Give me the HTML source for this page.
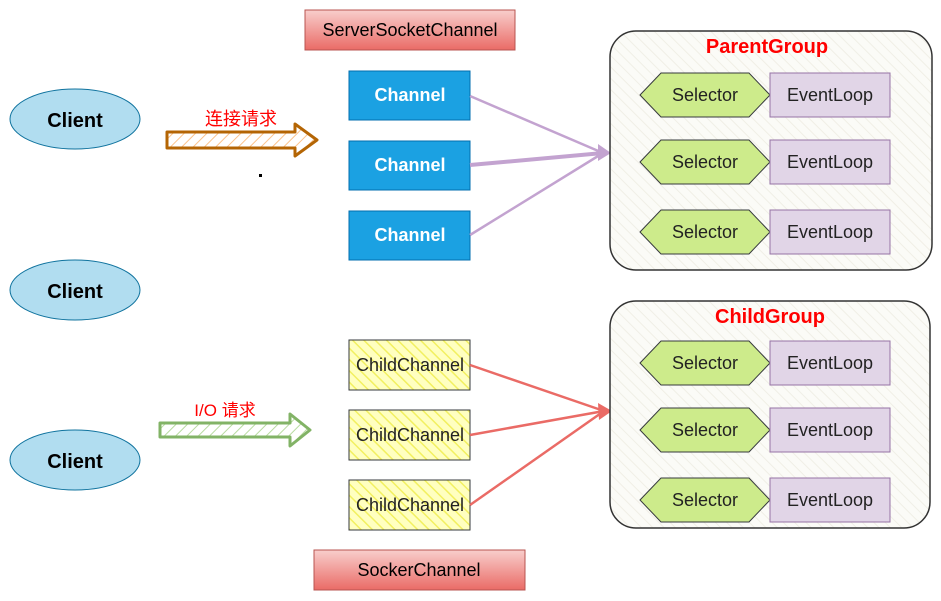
<!DOCTYPE html>
<html><head><meta charset="utf-8"><style>
body{margin:0;background:#fff;}
svg{display:block;font-family:"Liberation Sans","Noto Sans CJK SC",sans-serif;}
</style></head><body>
<svg width="941" height="601" viewBox="0 0 941 601" xmlns="http://www.w3.org/2000/svg">
<defs>
<linearGradient id="rg" x1="0" y1="0" x2="0" y2="1"><stop offset="0" stop-color="#f8cecc"/><stop offset="1" stop-color="#ea6b66"/></linearGradient>
<pattern id="hy" width="8" height="8" patternUnits="userSpaceOnUse" patternTransform="rotate(-45)"><rect width="8" height="8" fill="#ffffc0"/><line x1="0" y1="0" x2="0" y2="8" stroke="#f2f060" stroke-width="3"/></pattern>
<pattern id="hg" width="8" height="8" patternUnits="userSpaceOnUse" patternTransform="rotate(-45)"><rect width="8" height="8" fill="#fbfbf7"/><line x1="0" y1="0" x2="0" y2="8" stroke="#f0efe6" stroke-width="2"/></pattern>
<pattern id="ho" width="8" height="8" patternUnits="userSpaceOnUse" patternTransform="rotate(45)"><rect width="8" height="8" fill="#fff"/><line x1="0" y1="0" x2="0" y2="8" stroke="#fcc38c" stroke-width="2"/></pattern>
<pattern id="hgr" width="8" height="8" patternUnits="userSpaceOnUse" patternTransform="rotate(45)"><rect width="8" height="8" fill="#fff"/><line x1="0" y1="0" x2="0" y2="8" stroke="#b8dba0" stroke-width="2"/></pattern>
</defs>
<g fill="#b1ddf0" stroke="#10739e" stroke-width="1">
<ellipse cx="75" cy="119" rx="65" ry="30"/><ellipse cx="75" cy="290" rx="65" ry="30"/><ellipse cx="75" cy="460" rx="65" ry="30"/>
</g>
<g font-size="20" font-weight="bold" text-anchor="middle" fill="#000">
<text x="75" y="127">Client</text><text x="75" y="298">Client</text><text x="75" y="468">Client</text>
</g>
<rect x="305" y="10" width="210" height="40" fill="url(#rg)" stroke="#b85450"/>
<text x="410" y="36" font-size="18" text-anchor="middle">ServerSocketChannel</text>
<rect x="314" y="550" width="211" height="40" fill="url(#rg)" stroke="#b85450"/>
<text x="419" y="576" font-size="18" text-anchor="middle">SockerChannel</text>
<g fill="#1ba1e2" stroke="#006eaf">
<rect x="349" y="71" width="121" height="49"/><rect x="349" y="141" width="121" height="49"/><rect x="349" y="211" width="121" height="49"/>
</g>
<g font-size="18" font-weight="bold" text-anchor="middle" fill="#fff">
<text x="410" y="101">Channel</text><text x="410" y="171">Channel</text><text x="410" y="241">Channel</text>
</g>
<g fill="url(#hy)" stroke="#36393d">
<rect x="349" y="340" width="121" height="50"/><rect x="349" y="410" width="121" height="50"/><rect x="349" y="480" width="121" height="50"/>
</g>
<g font-size="18" text-anchor="middle" fill="#222">
<text x="410" y="371">ChildChannel</text><text x="410" y="441">ChildChannel</text><text x="410" y="511">ChildChannel</text>
</g>
<path d="M167,132 H295 V124 L317,140 L295,156 V148 H167 Z" fill="url(#ho)" stroke="#b46504" stroke-width="3" stroke-linejoin="round"/>
<text x="241" y="125" font-size="18" fill="#ff0000" text-anchor="middle">连接请求</text>
<rect x="259" y="174" width="3" height="3" fill="#000"/>
<path d="M160,423 H290 V414 L310,430 L290,446 V437 H160 Z" fill="url(#hgr)" stroke="#82b366" stroke-width="3" stroke-linejoin="round"/>
<text x="225" y="416" font-size="17" fill="#ff0000" text-anchor="middle">I/O 请求</text>
<g stroke="#c3a3d0" stroke-width="2.5" fill="none">
<line x1="470" y1="96" x2="603" y2="153"/><line x1="470" y1="165" x2="603" y2="153" stroke-width="4"/><line x1="470" y1="235" x2="603" y2="153"/>
</g>
<path d="M598,144 L611,153 L598,161 Z" fill="#c3a3d0"/>
<g stroke="#ea6b66" stroke-width="2.5" fill="none">
<line x1="470" y1="365" x2="604" y2="411"/><line x1="470" y1="435" x2="604" y2="411"/><line x1="470" y1="505" x2="604" y2="411"/>
</g>
<path d="M598,403 L612,411 L599,420 Z" fill="#ea6b66"/>
<rect x="610" y="31" width="322" height="239" rx="26" fill="url(#hg)" stroke="#333" stroke-width="1.5"/>
<text x="767" y="53" font-size="20" font-weight="bold" fill="#ff0000" text-anchor="middle">ParentGroup</text>
<rect x="610" y="301" width="320" height="227" rx="26" fill="url(#hg)" stroke="#333" stroke-width="1.5"/>
<text x="770" y="323" font-size="20" font-weight="bold" fill="#ff0000" text-anchor="middle">ChildGroup</text>
<g fill="#cdeb8b" stroke="#36393d">
<polygon points="640,95 661,73 749,73 770,95 749,117 661,117"/>
<polygon points="640,162 661,140 749,140 770,162 749,184 661,184"/>
<polygon points="640,232 661,210 749,210 770,232 749,254 661,254"/>
<polygon points="640,363 661,341 749,341 770,363 749,385 661,385"/>
<polygon points="640,430 661,408 749,408 770,430 749,452 661,452"/>
<polygon points="640,500 661,478 749,478 770,500 749,522 661,522"/>
</g>
<g fill="#e1d5e7" stroke="#9673a6">
<rect x="770" y="73" width="120" height="44"/><rect x="770" y="140" width="120" height="44"/><rect x="770" y="210" width="120" height="44"/>
<rect x="770" y="341" width="120" height="44"/><rect x="770" y="408" width="120" height="44"/><rect x="770" y="478" width="120" height="44"/>
</g>
<g font-size="18" text-anchor="middle" fill="#222">
<text x="705" y="101">Selector</text><text x="830" y="101">EventLoop</text>
<text x="705" y="168">Selector</text><text x="830" y="168">EventLoop</text>
<text x="705" y="238">Selector</text><text x="830" y="238">EventLoop</text>
<text x="705" y="369">Selector</text><text x="830" y="369">EventLoop</text>
<text x="705" y="436">Selector</text><text x="830" y="436">EventLoop</text>
<text x="705" y="506">Selector</text><text x="830" y="506">EventLoop</text>
</g>
</svg>
</body></html>
